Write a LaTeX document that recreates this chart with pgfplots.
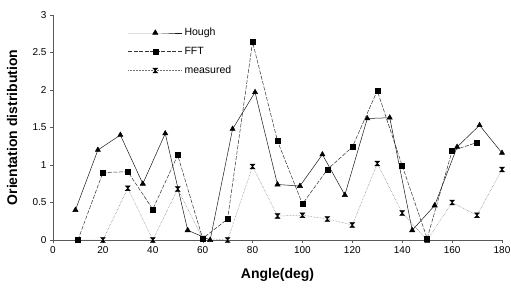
\documentclass[border=0pt]{standalone}
\usepackage{fontspec}
\setmainfont{Liberation Sans}
\usepackage{pgfplots}
\pgfplotsset{compat=1.18}
\pgfdeclareplotmark{hourglass}{%
  \pgfpathmoveto{\pgfqpoint{-\pgfplotmarksize}{\pgfplotmarksize}}%
  \pgfpathlineto{\pgfqpoint{\pgfplotmarksize}{\pgfplotmarksize}}%
  \pgfpathlineto{\pgfqpoint{-\pgfplotmarksize}{-\pgfplotmarksize}}%
  \pgfpathlineto{\pgfqpoint{\pgfplotmarksize}{-\pgfplotmarksize}}%
  \pgfpathclose
  \pgfusepathqfillstroke}
\begin{document}
\begin{tikzpicture}
\begin{axis}[
  scale only axis, width=449pt, height=225pt,
  xmin=0, xmax=180, ymin=0, ymax=3,
  axis x line=bottom, axis y line=left,
  axis line style={-, gray!70!black, line width=0.8pt},
  xtick={0,20,...,180}, ytick={0,0.5,...,3},
  tick style={gray!70!black},
  tick align=outside, major tick length=3pt,
  yticklabel style={/pgf/number format/fixed},
  /pgf/number format/assume math mode=true,
  ticklabel style={font=\fontsize{10}{12}\selectfont},
  xlabel={\textbf{Angle(deg)}}, ylabel={\textbf{Orientation distribution}},
  label style={font=\fontsize{14}{16}\selectfont},
  xlabel style={at={(axis description cs:0.5,0)}, anchor=center, yshift=-35pt},
  ylabel style={at={(axis description cs:0,0.5)}, anchor=center, yshift=41pt},
  legend style={at={(0.16,0.96)}, anchor=north west, draw=none, fill=none,
    font=\fontsize{10.5}{12}\selectfont, row sep=6pt},
  legend cell align=left,
  legend image code/.code={\draw[mark repeat=2,mark phase=2] plot coordinates {(0pt,0pt)(27pt,0pt)(54pt,0pt)};},
  clip=false,
]
\addplot[black!90, line width=0.5pt, mark=triangle*, mark size=3pt, mark options={solid,black}] coordinates {
(9,0.40)(18,1.20)(27,1.40)(36,0.75)(45,1.42)(54,0.13)(63,0.00)(72,1.48)(81,1.97)(90,0.74)
(99,0.72)(108,1.14)(117,0.60)(126,1.62)(135,1.63)(144,0.13)(153,0.46)(162,1.24)(171,1.53)(180,1.16)};
\addlegendentry{Hough}
\addplot[black!80, line width=0.5pt, dash pattern=on 4pt off 1.5pt, mark=square*, mark size=2.5pt, mark options={solid,black}] coordinates {
(10,0.00)(20,0.90)(30,0.91)(40,0.41)(50,1.13)(60,0.02)(70,0.28)(80,2.64)(90,1.32)(100,0.48)
(110,0.94)(120,1.24)(130,1.99)(140,0.99)(150,0.02)(160,1.19)(170,1.30)};
\addlegendentry{FFT}
\addplot[black!55, line width=0.5pt, densely dotted, mark=hourglass, mark size=2.4pt, mark options={solid,black}] coordinates {
(10,0.00)(20,0.00)(30,0.69)(40,0.00)(50,0.68)(60,0.02)(70,0.00)(80,0.98)(90,0.32)(100,0.33)
(110,0.28)(120,0.20)(130,1.02)(140,0.36)(150,0.00)(160,0.50)(170,0.33)(180,0.94)};
\addlegendentry{measured}
\end{axis}
\pgfresetboundingbox
\useasboundingbox (-53pt,-52pt) rectangle (458pt,240pt);
\end{tikzpicture}
\end{document}
